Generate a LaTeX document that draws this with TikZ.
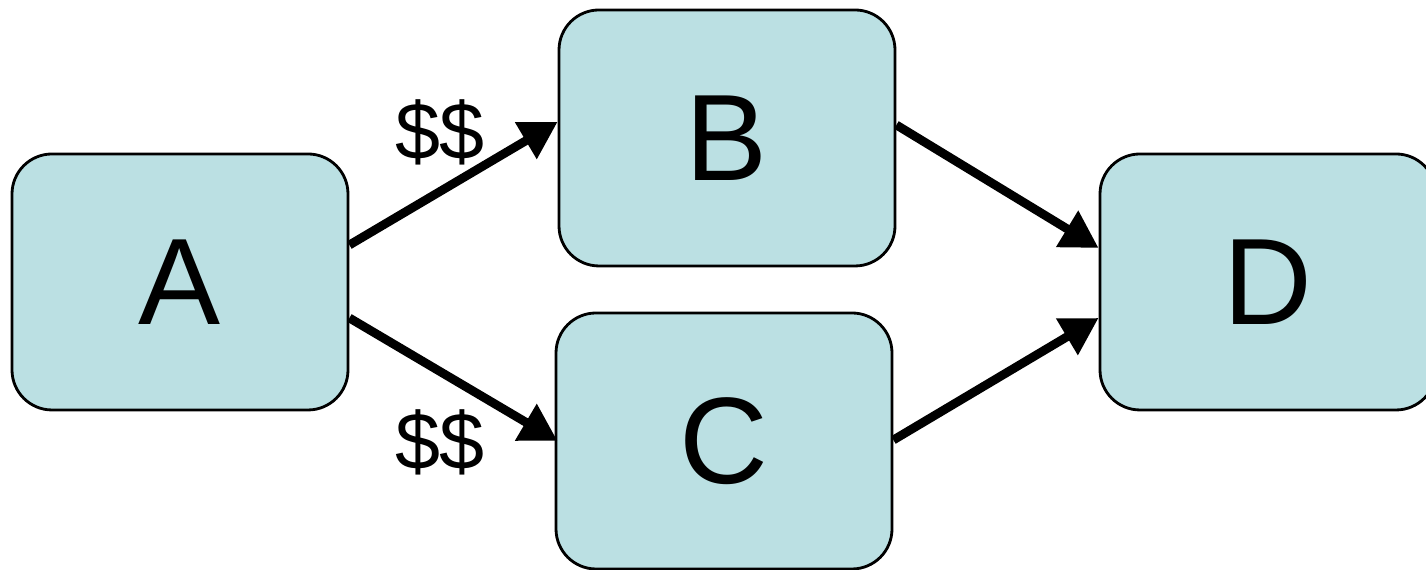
\documentclass[tikz,border=0pt]{standalone}
\usepackage{fontspec}
\setsansfont{Liberation Sans}
\usetikzlibrary{arrows.meta,positioning}
\definecolor{boxteal}{RGB}{187,224,227}

\begin{document}
\begin{tikzpicture}[
  font=\sffamily,
  >={Triangle[length=10.5pt,width=11.5pt]},
  box/.style={draw=black, line width=0.8pt, fill=boxteal, rounded corners=0.4cm,
    minimum width=3.36cm, minimum height=2.56cm, inner sep=0pt,
    font=\fontsize{35}{40}\selectfont\sffamily},
  arrow/.style={->, draw=black, line width=2.5pt},
  money/.style={font=\fontsize{23}{26}\selectfont\sffamily}
]
\clip (0,0) rectangle (14.26,5.70);

% Boxes.
\node[box] (a) at (1.80,2.88) {A};
\node[box] (b) at (7.27,4.32) {B};
\node[box] (c) at (7.24,1.29) {C};
\node[box] (d) at (12.68,2.88) {D};

% Flow.
\draw[arrow] ([yshift=0.37cm]a.east) -- ([yshift=0.16cm]b.west);
\draw[arrow] ([yshift=-0.36cm]a.east) -- ([xshift=0.03cm]c.west);
\draw[arrow] ([yshift=0.13cm]b.east) -- ([yshift=0.34cm]d.west);
\draw[arrow] ([yshift=0.01cm]c.east) -- ([yshift=-0.36cm]d.west);

% Costs.
\node[money] (costb) at (4.40,4.38) {\$\$};
\node[money] (costc) at (4.40,1.28) {\$\$};

\end{tikzpicture}
\end{document}
